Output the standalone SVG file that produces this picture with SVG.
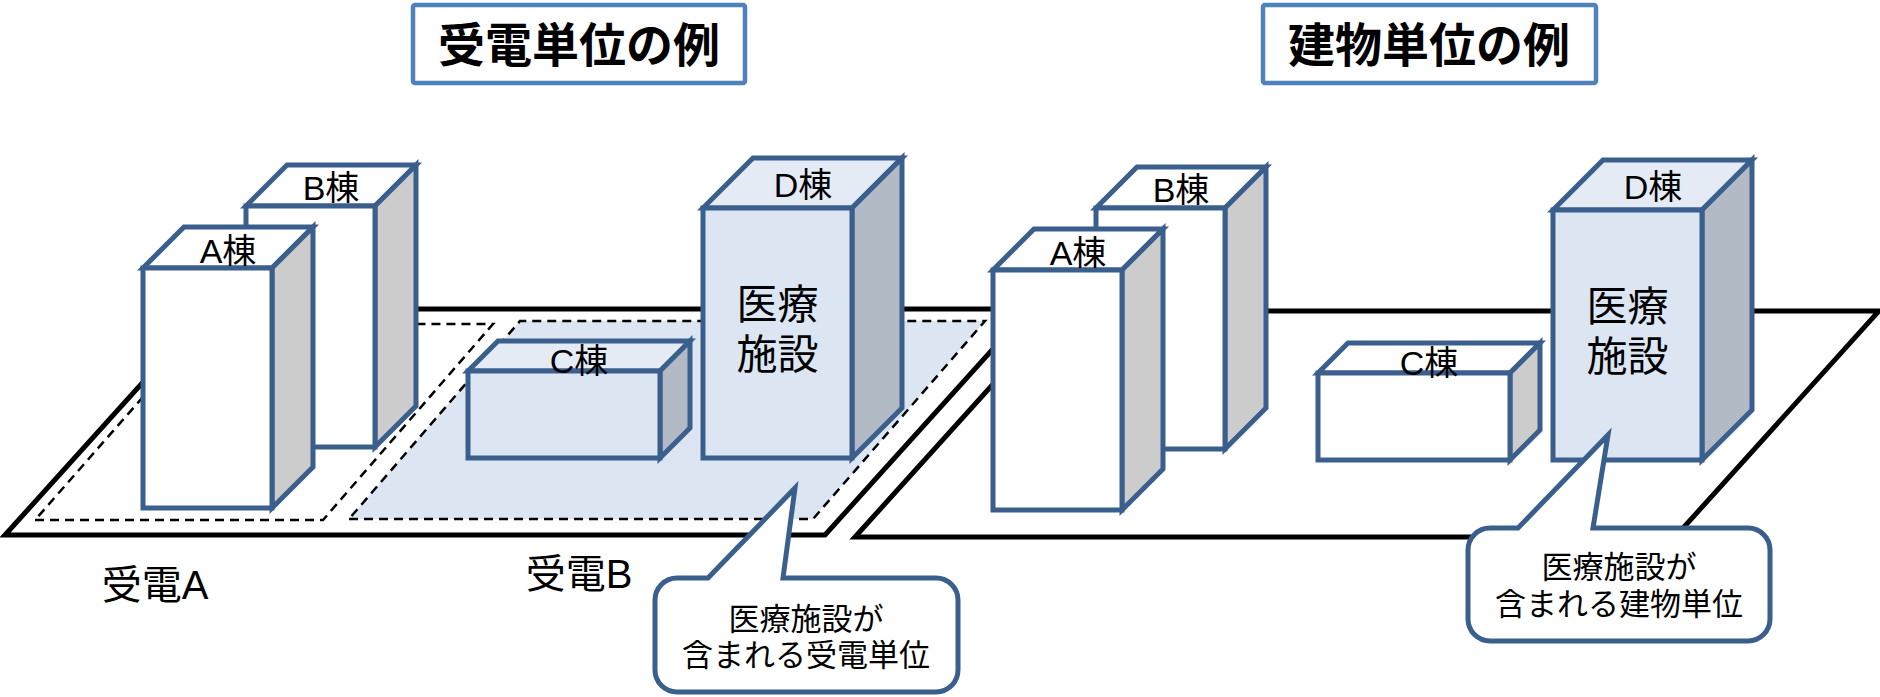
<svg xmlns="http://www.w3.org/2000/svg" width="1880" height="697" viewBox="0 0 1880 697">
  <style>
    .txt { font-family: "Liberation Sans", "Noto Sans CJK JP", sans-serif; fill: #000; }
    .title { font-family: "Noto Sans CJK JP", "Liberation Sans", sans-serif; font-weight: bold; font-size: 47px; text-anchor: middle; }
    .title-box { fill: #fff; stroke: #4F81BD; stroke-width: 4.5; }
    .ground { fill: #fff; stroke: #000; stroke-width: 5; stroke-linejoin: miter; }
    .zone { fill: none; stroke: #000; stroke-width: 2.5; stroke-dasharray: 9 6; }
    .zone-hl { fill: #DCE6F2; stroke: #000; stroke-width: 2.5; stroke-dasharray: 9 6; }
    .edge { stroke: #3B5F8D; stroke-width: 5; stroke-linejoin: miter; }
    .w-front { fill: #fff; }
    .w-top { fill: #fff; }
    .w-side { fill: #CCCCCC; }
    .b-front { fill: #DCE6F2; }
    .b-top { fill: #E4EBF5; }
    .b-side { fill: #B2BAC5; }
    .lbl { font-size: 34px; text-anchor: middle; }
    .big { font-size: 41px; text-anchor: middle; }
    .site { font-size: 40px; text-anchor: middle; }
    .note { font-size: 31px; text-anchor: middle; }
    .callout { fill: #fff; stroke: #3B5F8D; stroke-width: 5; stroke-linejoin: miter; }
  </style>

  <!-- headings -->
  <g id="title-power">
    <rect class="title-box" x="413" y="5" width="332" height="78" rx="2"/>
    <text class="txt title" x="579" y="62">受電単位の例</text>
  </g>
  <g id="title-building">
    <rect class="title-box" x="1263" y="5" width="333" height="78" rx="2"/>
    <text class="txt title" x="1429" y="62">建物単位の例</text>
  </g>

  <!-- ground plates and supply zones -->
  <g id="connectors">
    <polygon id="ground-left" class="ground" points="5,535 825,535 1029,309 209,309"/>
    <polygon id="zone-a" class="zone" points="35,520 323,520 493,324 207,324"/>
    <polygon id="zone-b" class="zone-hl" points="349,519 813,519 985,321 520,321"/>
    <polygon id="ground-right" class="ground" points="855,537 1675,537 1879,311 1059,311"/>
  </g>

  <!-- left: per power-receiving unit -->
  <g id="left-b" transform="translate(246,206)">
    <polygon class="edge w-top" points="0,0 41,-41 170,-41 129,0"/>
    <polygon class="edge w-side" points="129,0 170,-41 170,200 129,241"/>
    <rect class="edge w-front" x="0" y="0" width="129" height="241"/>
    <text class="txt lbl" x="85" y="-6">B棟</text>
  </g>
  <g id="left-a" transform="translate(143,268)">
    <polygon class="edge w-top" points="0,0 41,-41 170,-41 129,0"/>
    <polygon class="edge w-side" points="129,0 170,-41 170,199 129,240"/>
    <rect class="edge w-front" x="0" y="0" width="129" height="240"/>
    <text class="txt lbl" x="85" y="-5">A棟</text>
  </g>
  <g id="left-c" transform="translate(468,371)">
    <polygon class="edge b-top" points="0,0 30,-30 222,-30 192,0"/>
    <polygon class="edge b-side" points="192,0 222,-30 222,57 192,87"/>
    <rect class="edge b-front" x="0" y="0" width="192" height="87"/>
    <text class="txt lbl" x="111" y="2">C棟</text>
  </g>
  <g id="left-d" transform="translate(703,208)">
    <polygon class="edge b-top" points="0,0 50,-50 199,-50 149,0"/>
    <polygon class="edge b-side" points="149,0 199,-50 199,200 149,250"/>
    <rect class="edge b-front" x="0" y="0" width="149" height="250"/>
    <text class="txt lbl" x="100" y="-11">D棟</text>
    <text class="txt big" x="74.5" y="111">医療</text>
    <text class="txt big" x="74.5" y="161">施設</text>
  </g>

  <!-- right: per building -->
  <g id="right-b" transform="translate(1096,208)">
    <polygon class="edge w-top" points="0,0 41,-41 170,-41 129,0"/>
    <polygon class="edge w-side" points="129,0 170,-41 170,200 129,241"/>
    <rect class="edge w-front" x="0" y="0" width="129" height="241"/>
    <text class="txt lbl" x="85" y="-6">B棟</text>
  </g>
  <g id="right-a" transform="translate(993,270)">
    <polygon class="edge w-top" points="0,0 41,-41 170,-41 129,0"/>
    <polygon class="edge w-side" points="129,0 170,-41 170,199 129,240"/>
    <rect class="edge w-front" x="0" y="0" width="129" height="240"/>
    <text class="txt lbl" x="85" y="-5">A棟</text>
  </g>
  <g id="right-c" transform="translate(1318,373)">
    <polygon class="edge w-top" points="0,0 30,-30 222,-30 192,0"/>
    <polygon class="edge w-side" points="192,0 222,-30 222,57 192,87"/>
    <rect class="edge w-front" x="0" y="0" width="192" height="87"/>
    <text class="txt lbl" x="111" y="2">C棟</text>
  </g>
  <g id="right-d" transform="translate(1553,210)">
    <polygon class="edge b-top" points="0,0 50,-50 199,-50 149,0"/>
    <polygon class="edge b-side" points="149,0 199,-50 199,200 149,250"/>
    <rect class="edge b-front" x="0" y="0" width="149" height="250"/>
    <text class="txt lbl" x="100" y="-11">D棟</text>
    <text class="txt big" x="74.5" y="111">医療</text>
    <text class="txt big" x="74.5" y="161">施設</text>
  </g>

  <!-- supply unit names -->
  <g id="label-supply-a">
    <text class="txt site" x="155" y="599">受電A</text>
  </g>
  <g id="label-supply-b">
    <text class="txt site" x="579" y="588">受電B</text>
  </g>

  <!-- speech bubbles -->
  <g id="callout-left">
    <path class="callout" d="M677,578 L708,578 L795,488 L783,578 L936,578 A22,22 0 0 1 958,600 L958,670 A22,22 0 0 1 936,692 L677,692 A22,22 0 0 1 655,670 L655,600 A22,22 0 0 1 677,578 Z"/>
    <text class="txt note" x="806" y="630">医療施設が</text>
    <text class="txt note" x="806" y="666">含まれる受電単位</text>
  </g>
  <g id="callout-right">
    <path class="callout" d="M1490,528 L1518,528 L1608,435 L1593,528 L1748,528 A22,22 0 0 1 1770,550 L1770,619 A22,22 0 0 1 1748,641 L1490,641 A22,22 0 0 1 1468,619 L1468,550 A22,22 0 0 1 1490,528 Z"/>
    <text class="txt note" x="1619" y="578">医療施設が</text>
    <text class="txt note" x="1619" y="615">含まれる建物単位</text>
  </g>
</svg>
